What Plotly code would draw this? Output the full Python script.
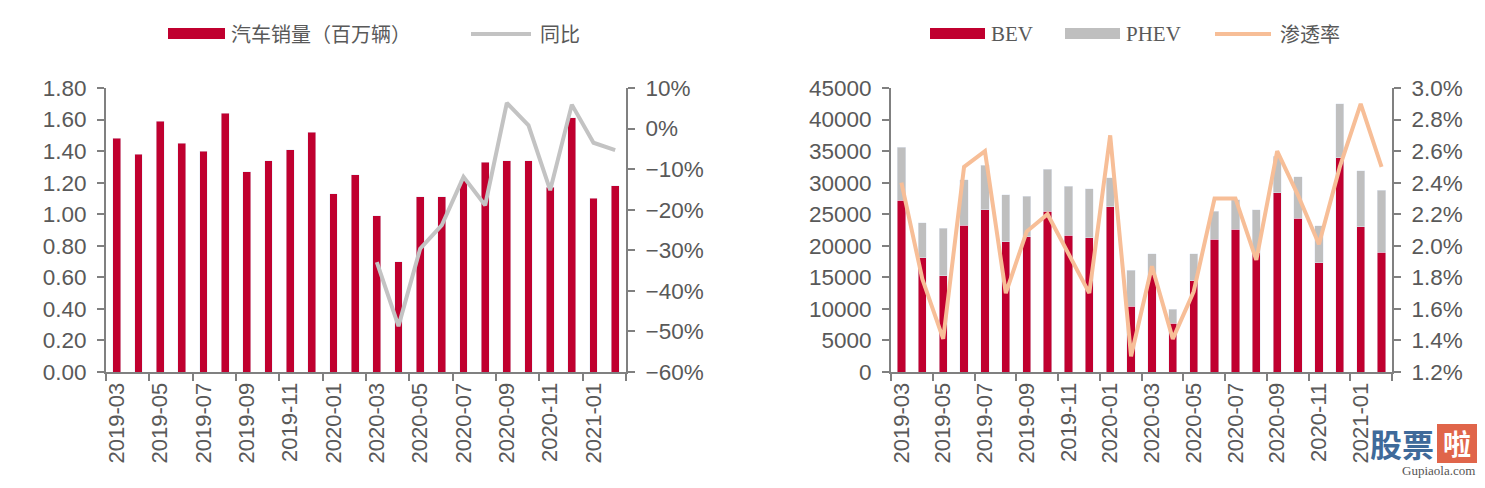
import plotly.graph_objects as go

# the page puts the figure at an 8px body margin, so the figure is sized to fit inside it
W, H = 1485, 488
OFF = 8
FW, FH = W - 2 * OFF, H - 2 * OFF

months = [
    "2019-03", "2019-04", "2019-05", "2019-06", "2019-07", "2019-08",
    "2019-09", "2019-10", "2019-11", "2019-12", "2020-01", "2020-02",
    "2020-03", "2020-04", "2020-05", "2020-06", "2020-07", "2020-08",
    "2020-09", "2020-10", "2020-11", "2020-12", "2021-01", "2021-02",
]

# left chart: car sales (million units) and yoy (%)
sales = [1.48, 1.38, 1.59, 1.45, 1.40, 1.64, 1.27, 1.34, 1.41, 1.52, 1.13, 1.25,
         0.99, 0.70, 1.11, 1.11, 1.22, 1.33, 1.34, 1.34, 1.17, 1.61, 1.10, 1.18]
yoy = [None] * 12 + [-32.9, -48.7, -29.6, -23.8, -11.9, -18.9,
                     6.3, 0.8, -15.2, 5.9, -3.5, -5.3]

# right chart: BEV / PHEV units and penetration (%)
bev = [27200, 18100, 15250, 23250, 25700, 20600, 21450, 25450, 21700, 21250, 26150, 10400,
       15450, 7750, 14450, 21050, 22600, 18900, 28400, 24400, 17300, 33950, 23000, 19000]
phev = [8400, 5550, 7500, 7250, 7050, 7450, 6400, 6650, 7750, 7750, 4650, 5700,
        3300, 2200, 4300, 4400, 4700, 6800, 5800, 6550, 5850, 8550, 8900, 9800]
penetration = [2.40, 1.79, 1.41, 2.50, 2.60, 1.70, 2.09, 2.20, 1.95, 1.70, 2.70, 1.30,
               1.87, 1.41, 1.71, 2.30, 2.30, 1.91, 2.60, 2.32, 2.01, 2.50, 2.90, 2.50]

RED = "#C0002F"
GRAY_BAR = "#BFBFBF"
GRAY_LINE = "#C3C3C3"
ORANGE = "#F7BE97"
AXIS = "#808080"
TXT = "#595959"


def px(x):
    """Screen x pixel -> paper coordinate."""
    return (x - OFF) / FW


def py(y):
    """Screen y pixel -> paper coordinate."""
    return 1 - (y - OFF) / FH


fig = go.Figure()

fig.add_trace(go.Bar(x=months, y=sales, marker_color=RED, width=0.36,
                     xaxis="x", yaxis="y"))
fig.add_trace(go.Scatter(x=months, y=yoy, mode="lines", line=dict(color=GRAY_LINE, width=4),
                         xaxis="x", yaxis="y2"))

fig.add_trace(go.Bar(x=months, y=bev, marker_color=RED, width=0.4,
                     xaxis="x2", yaxis="y3"))
fig.add_trace(go.Bar(x=months, y=phev, marker_color=GRAY_BAR, width=0.4,
                     xaxis="x2", yaxis="y3"))
fig.add_trace(go.Scatter(x=months, y=penetration, mode="lines", line=dict(color=ORANGE, width=4),
                         xaxis="x2", yaxis="y4"))

ydom = [py(372), py(88)]
xcommon = dict(
    type="category", tickmode="linear", tick0=0, dtick=2, tickson="boundaries",
    ticks="outside", ticklen=7, tickwidth=2, tickcolor=AXIS,
    showline=True, linecolor=AXIS, linewidth=2, showgrid=False, automargin=False,
    tickangle=-90, tickfont=dict(family="Liberation Sans, Arial", size=22, color=TXT),
)
ycommon = dict(
    showline=True, linecolor=AXIS, linewidth=2, showgrid=False, zeroline=False,
    ticks="outside", ticklen=7, tickwidth=2, tickcolor=AXIS, automargin=False,
    tickfont=dict(family="Liberation Sans, Arial", size=22.5, color=TXT),
    domain=ydom, ticklabelstandoff=6,
)

fig.update_layout(
    width=FW, height=FH,
    margin=dict(l=0, r=0, t=0, b=0),
    paper_bgcolor="white", plot_bgcolor="white",
    barmode="stack", showlegend=False,
    xaxis={**xcommon, "domain": [px(106), px(626)], "anchor": "y"},
    yaxis={**ycommon, "range": [0, 1.8], "dtick": 0.2, "tickformat": ".2f", "anchor": "x"},
    yaxis2={**ycommon, "range": [-60, 10], "dtick": 10, "ticksuffix": "%",
            "overlaying": "y", "side": "right", "anchor": "x"},
    xaxis2={**xcommon, "domain": [px(891), px(1392)], "anchor": "y3"},
    yaxis3={**ycommon, "range": [0, 45000], "dtick": 5000, "tickformat": "d", "anchor": "x2"},
    yaxis4={**ycommon, "range": [1.2, 3.0], "dtick": 0.2, "tickformat": ".1f", "ticksuffix": "%",
            "overlaying": "y3", "side": "right", "anchor": "x2"},
)

# hand-drawn legends (wide swatches as in the source)
cjk = dict(family="Noto Sans CJK SC", size=20, color=TXT)
serif = dict(family="Liberation Serif, Times New Roman", size=21, color=TXT)
paper = dict(xref="paper", yref="paper")
shapes = [
    dict(type="rect", x0=px(168), x1=px(225), y0=py(39), y1=py(28), fillcolor=RED, line_width=0, **paper),
    dict(type="line", x0=px(471), x1=px(531), y0=py(34), y1=py(34),
         line=dict(color=GRAY_LINE, width=4), **paper),
    dict(type="rect", x0=px(930), x1=px(985), y0=py(39), y1=py(28), fillcolor=RED, line_width=0, **paper),
    dict(type="rect", x0=px(1065), x1=px(1120), y0=py(39), y1=py(28), fillcolor=GRAY_BAR,
         line_width=0, **paper),
    dict(type="line", x0=px(1215), x1=px(1271), y0=py(34), y1=py(34),
         line=dict(color=ORANGE, width=4), **paper),
    # watermark badge
    dict(type="rect", x0=px(1437), x1=px(1477), y0=py(463), y1=py(424), fillcolor="#E0654A",
         line_width=0, layer="above", **paper),
]
legend_texts = [
    (229, "汽车销量（百万辆）", cjk),
    (538, "同比", cjk),
    (989, "BEV", serif),
    (1124, "PHEV", serif),
    (1278, "渗透率", cjk),
]
annotations = [
    dict(x=px(x), y=py(34), text=t, showarrow=False,
         xanchor="left", yanchor="middle", font=f, **paper)
    for x, t, f in legend_texts
]
# site watermark
annotations += [
    dict(x=px(1436), y=py(443), text="<b>股票</b>", showarrow=False,
         xanchor="right", yanchor="middle",
         font=dict(family="Noto Sans CJK SC", size=32, color="#3F6A9A"), **paper),
    dict(x=px(1457), y=py(443), text="<b>啦</b>", showarrow=False,
         xanchor="center", yanchor="middle",
         font=dict(family="Noto Sans CJK SC", size=28, color="white"), **paper),
    dict(x=px(1477), y=py(470), text="Gupiaola.com", showarrow=False,
         xanchor="right", yanchor="middle",
         font=dict(family="Liberation Serif", size=13, color="#555555"), **paper),
]
fig.update_layout(shapes=shapes, annotations=annotations)

fig.write_html("out.html")
